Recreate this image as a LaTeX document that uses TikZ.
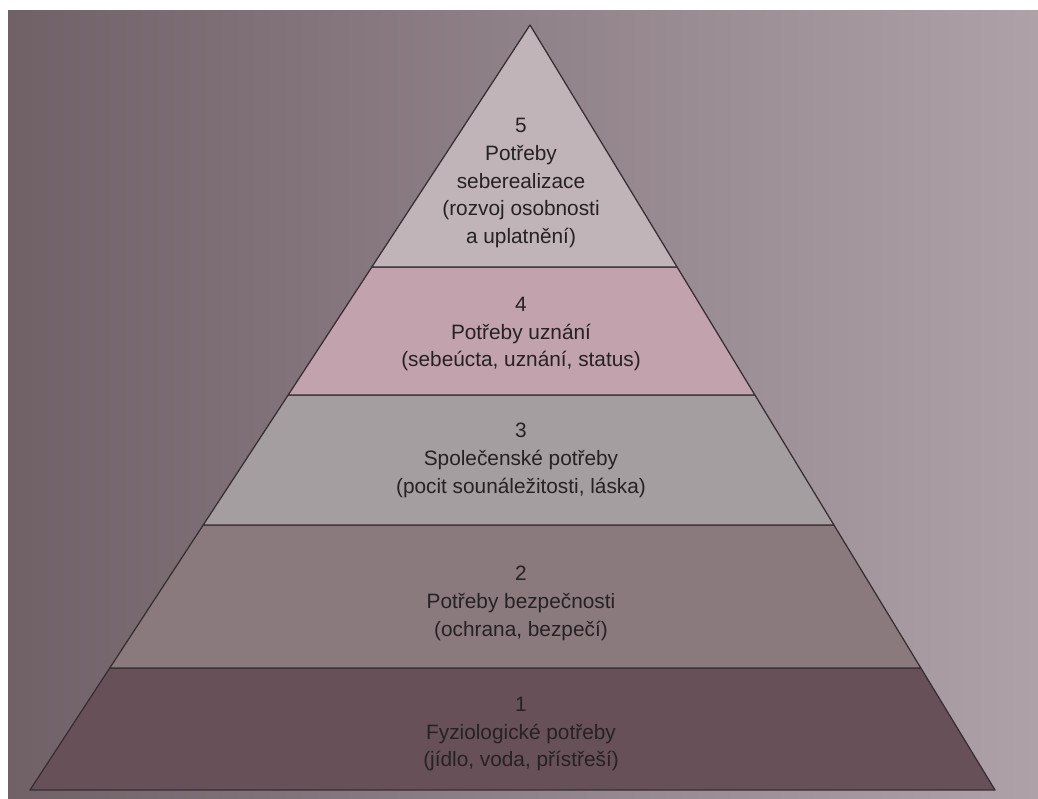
\documentclass[tikz,border=0pt]{standalone}
\usepackage{fontspec}
\setmainfont{Liberation Sans}
\usetikzlibrary{calc}
\definecolor{bgleft}{RGB}{112,97,103}
\definecolor{bgright}{RGB}{174,162,168}
\definecolor{levelfive}{RGB}{192,180,185}
\definecolor{levelfour}{RGB}{194,163,173}
\definecolor{levelthree}{RGB}{165,158,160}
\definecolor{leveltwo}{RGB}{138,122,126}
\definecolor{levelone}{RGB}{103,80,88}
\definecolor{edgegray}{RGB}{55,46,50}
\definecolor{inkgray}{RGB}{38,33,36}

\begin{document}
\begin{tikzpicture}[x=0.025cm, y=-0.025cm,
    layer/.style={draw=edgegray, line width=0.9pt, line join=round},
    levtext/.style={align=center, text=inkgray, inner sep=0pt,
        font=\fontsize{14.8pt}{19.9pt}\selectfont}]
    \useasboundingbox (0,0) rectangle (1038,798);
    % Photo backdrop
    \fill[white] (0,0) rectangle (1038,798);
    \shade[left color=bgleft, right color=bgright] (8,10) rectangle (1038,798);

    % Pyramid corners and level borders
    \coordinate (apex) at (530,25);
    \coordinate (bl) at (30,790);
    \coordinate (br) at (995,790);
    \coordinate (l1) at ($(apex)!0.8405!(bl)$);
    \coordinate (r1) at ($(apex)!0.8405!(br)$);
    \coordinate (l2) at ($(apex)!0.6536!(bl)$);
    \coordinate (r2) at ($(apex)!0.6536!(br)$);
    \coordinate (l3) at ($(apex)!0.4837!(bl)$);
    \coordinate (r3) at ($(apex)!0.4837!(br)$);
    \coordinate (l4) at ($(apex)!0.3163!(bl)$);
    \coordinate (r4) at ($(apex)!0.3163!(br)$);

    % Levels
    \filldraw[layer, fill=levelone] (bl) -- (br) -- (r1) -- (l1) -- cycle;
    \filldraw[layer, fill=leveltwo] (l1) -- (r1) -- (r2) -- (l2) -- cycle;
    \filldraw[layer, fill=levelthree] (l2) -- (r2) -- (r3) -- (l3) -- cycle;
    \filldraw[layer, fill=levelfour] (l3) -- (r3) -- (r4) -- (l4) -- cycle;
    \filldraw[layer, fill=levelfive] (l4) -- (r4) -- (apex) -- cycle;

    % Texts
    \node[levtext] (five) at (521,183) {5\\Potřeby\\seberealizace\\(rozvoj osobnosti\\a uplatnění)};
    \node[levtext] (four) at (521,334) {4\\Potřeby uznání\\(sebeúcta, uznání, status)};
    \node[levtext] (three) at (521,460) {3\\Společenské potřeby\\(pocit sounáležitosti, láska)};
    \node[levtext] (two) at (521,603) {2\\Potřeby bezpečnosti\\(ochrana, bezpečí)};
    \node[levtext] (one) at (521,734) {1\\Fyziologické potřeby\\(jídlo, voda, přístřeší)};
\end{tikzpicture}
\end{document}
